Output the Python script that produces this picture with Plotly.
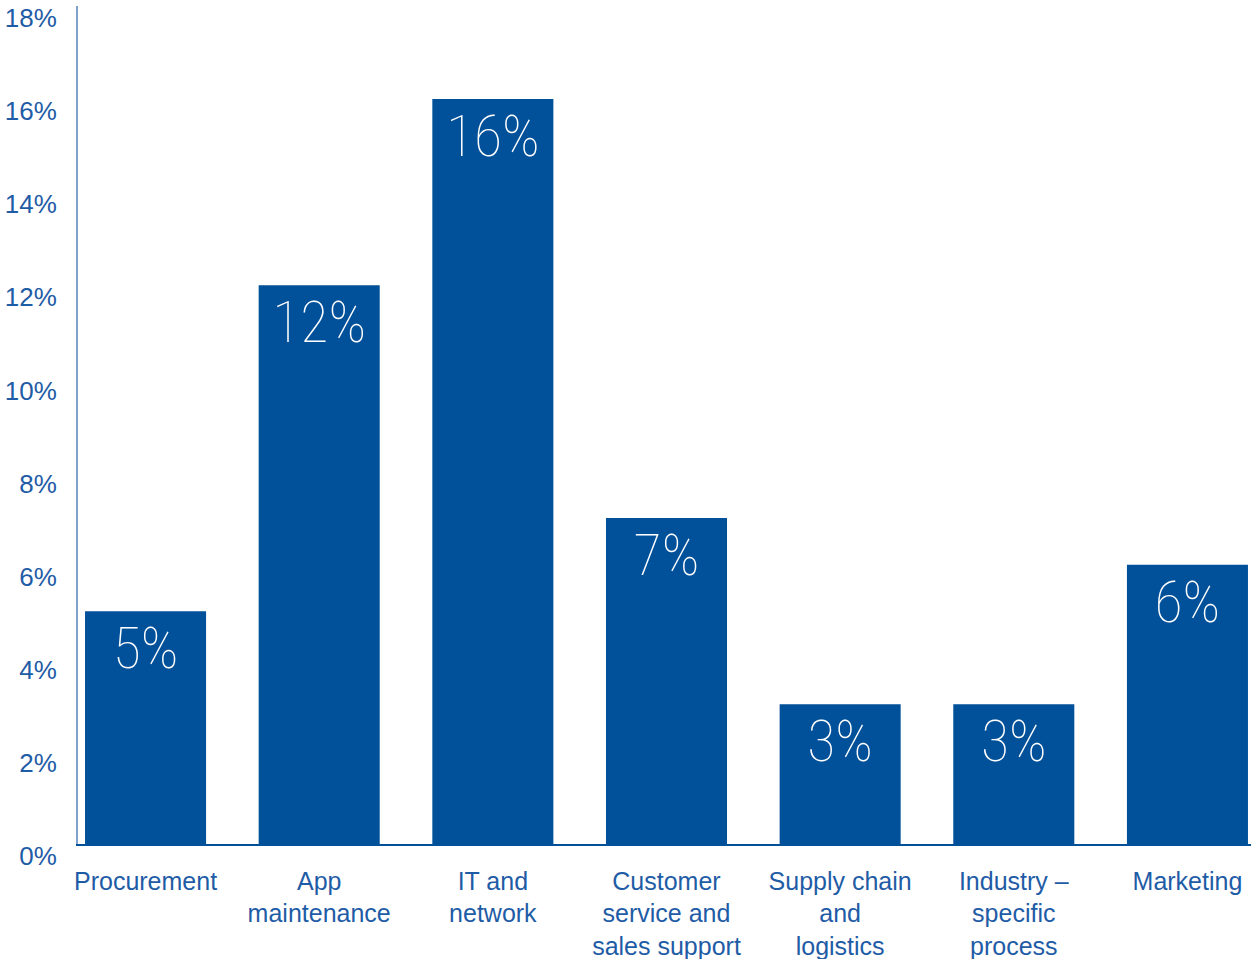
import plotly.graph_objects as go

categories = ["Procurement", "App<br>maintenance", "IT and<br>network",
              "Customer<br>service and<br>sales support", "Supply chain<br>and<br>logistics",
              "Industry –<br>specific<br>process", "Marketing"]
values = [5, 12, 16, 7, 3, 3, 6]
value_labels = ["5%", "12%", "16%", "7%", "3%", "3%", "6%"]
y_tickvals = [0, 2, 4, 6, 8, 10, 12, 14, 16, 18]
y_ticktext = ["0%", "2%", "4%", "6%", "8%", "10%", "12%", "14%", "16%", "18%"]

BAR = "#00509a"
TXT = "#1f5ca6"

fig = go.Figure(go.Bar(
    x=categories, y=values, marker_color=BAR, marker_line_width=0,
    text=value_labels, textposition="inside", insidetextanchor="end",
    textangle=0,
    textfont=dict(family="Noto Sans ExtraCondensed Light, Noto Sans ExtraCondensed, Noto Sans Condensed, Roboto Condensed, Open Sans Condensed, Roboto",
                  size=58, color="white", weight=100),
    cliponaxis=False,
))

fig.update_layout(
    width=1251, height=959,
    margin=dict(l=78, r=0, t=6, b=115),
    paper_bgcolor="white", plot_bgcolor="white",
    bargap=0.303,
    showlegend=False,
    font=dict(family="Liberation Sans, Arial, sans-serif", color=TXT),
)
fig.update_xaxes(
    range=[-0.389, 6.366], showgrid=False, zeroline=False, automargin=False,
    showline=True, linecolor=BAR, linewidth=1.5, ticks="",
    tickfont=dict(size=25, color=TXT), tickangle=0, ticklabelstandoff=14,
)
fig.update_yaxes(
    range=[0, 18], tickvals=y_tickvals, ticktext=y_ticktext, automargin=False,
    showgrid=False, zeroline=False, showline=True, linecolor="#7fa1cb", linewidth=2,
    ticks="", tickfont=dict(size=26, color=TXT), ticklabelstandoff=14, ticklabelshift=12,
)

fig.write_html("out.html")
